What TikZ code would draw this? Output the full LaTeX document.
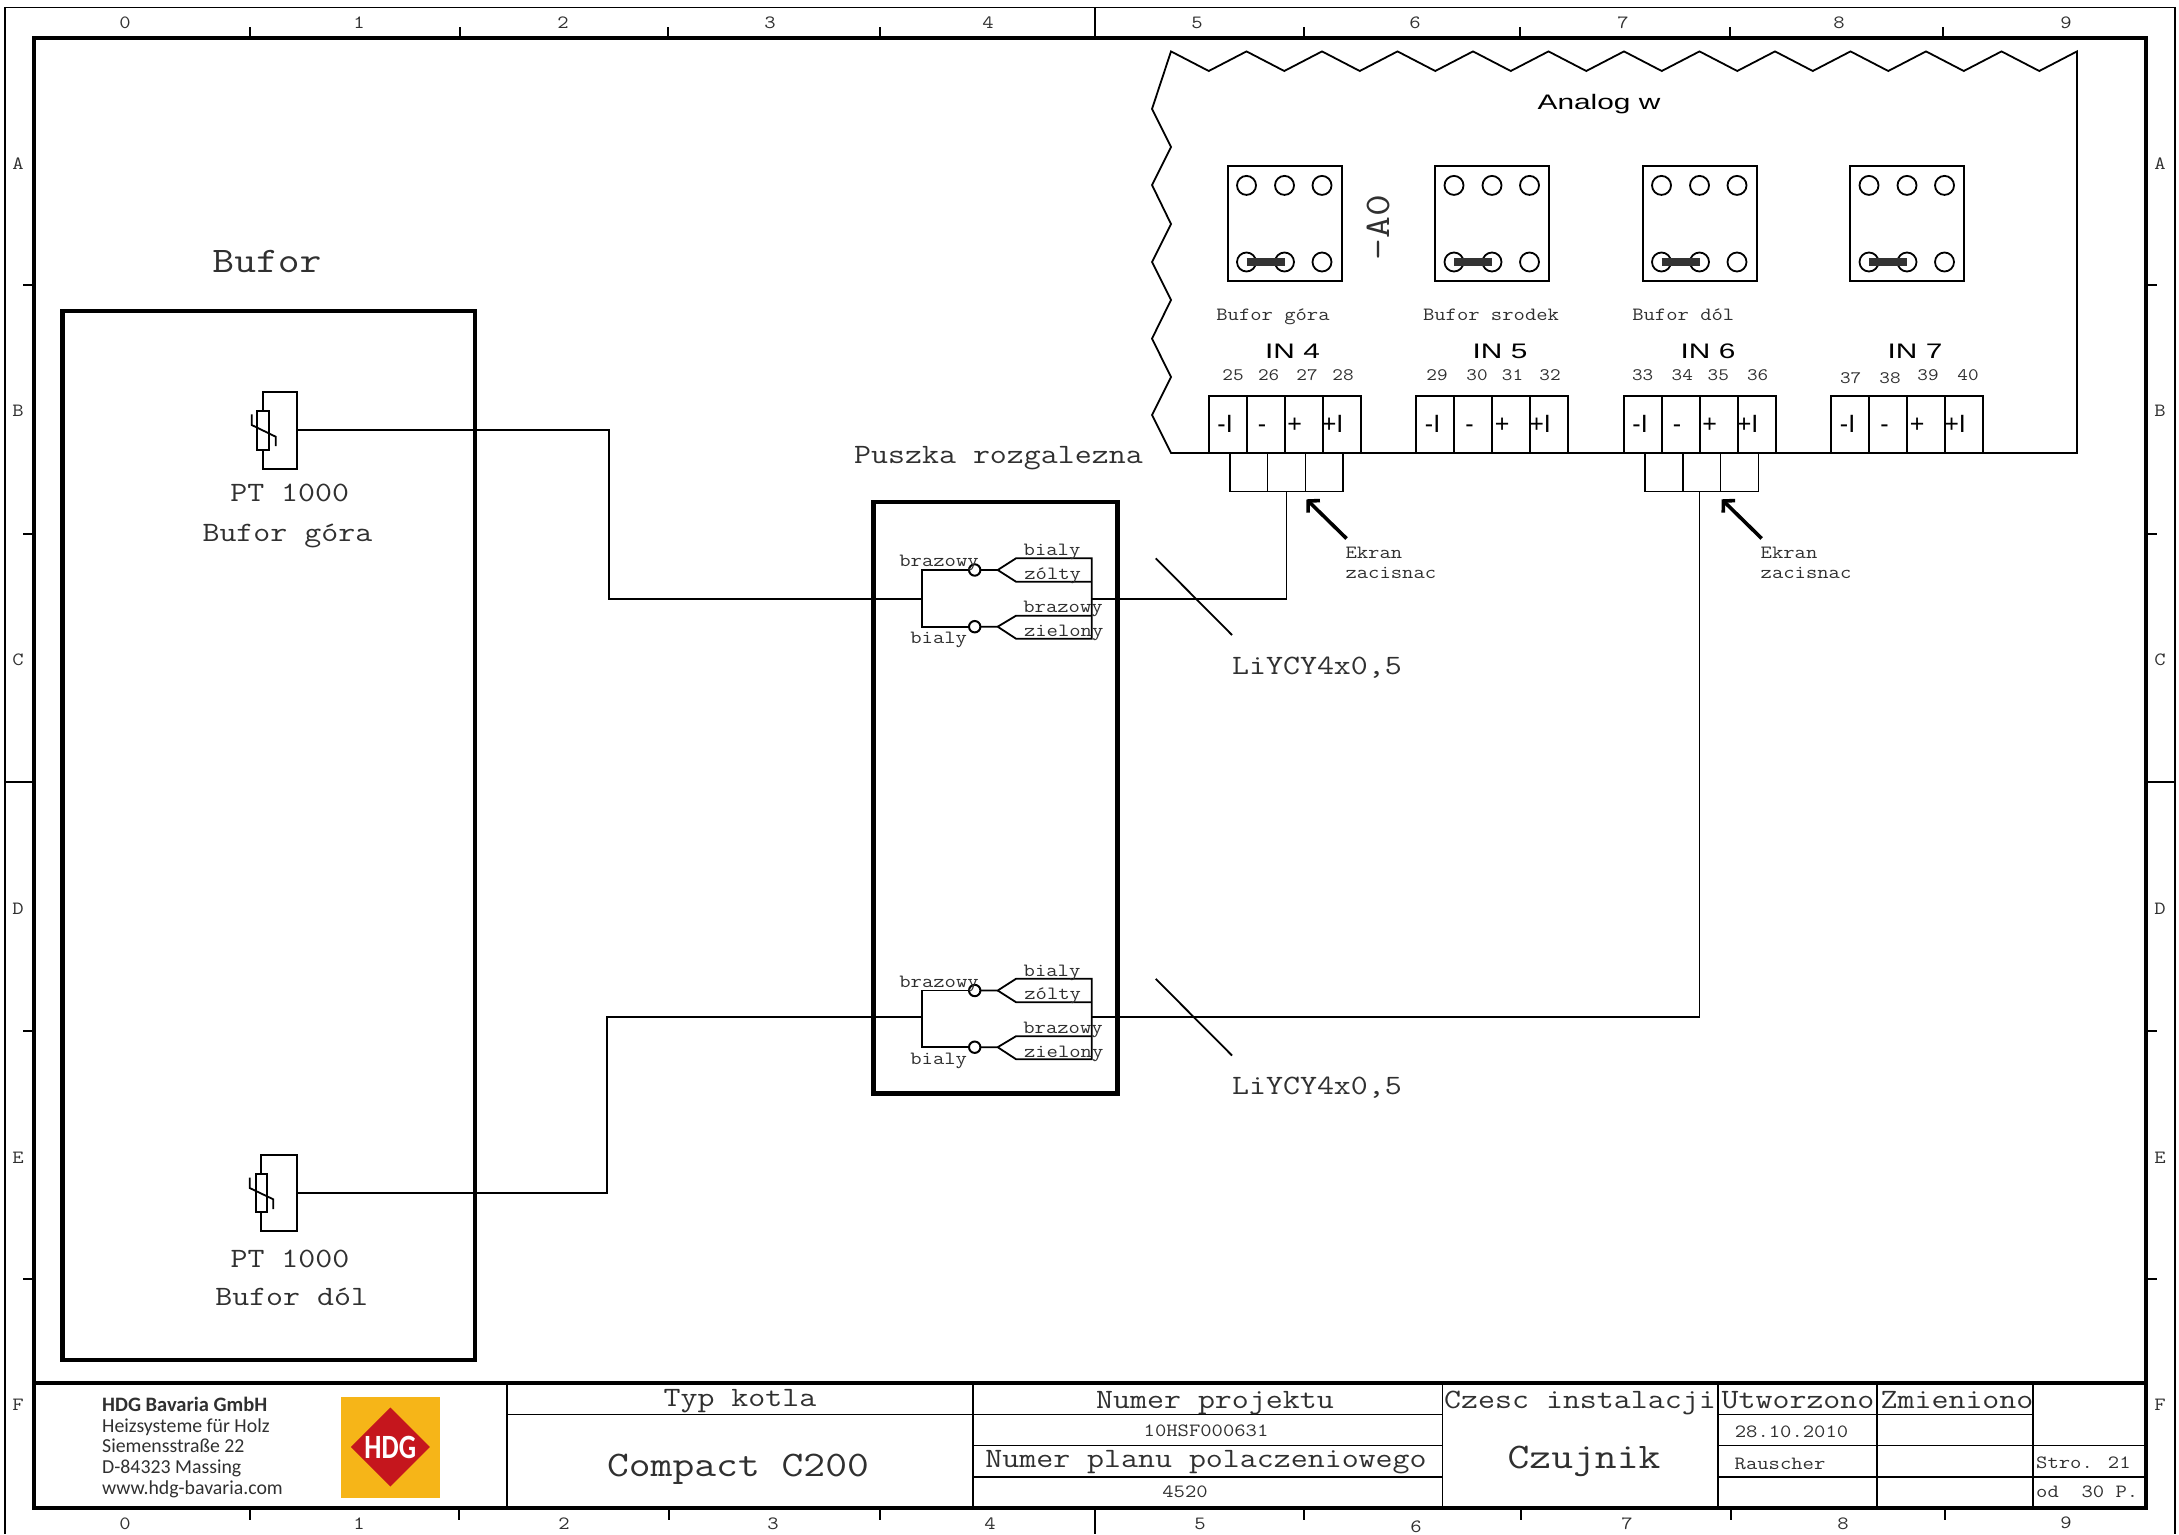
\documentclass[tikz,border=0pt]{standalone}
\usepackage{fontspec}
\setmainfont[FakeStretch=1.177]{Latin Modern Mono}
\newfontfamily\analogfont[FakeStretch=1.42]{Liberation Sans}
\newfontfamily\plainfont{Liberation Sans}
\newfontfamily\logofont{Carlito}
\newfontfamily\hdgfont[FakeStretch=0.8]{Carlito}
\usetikzlibrary{arrows.meta}
\definecolor{logoyellow}{HTML}{F6B518}
\definecolor{logored}{HTML}{C5161D}
\definecolor{jumpergray}{HTML}{333333}
\definecolor{inkgray}{HTML}{303030}
\tikzset{
  txt/.style={inner sep=0pt, text depth=0pt, text=inkgray},
  smalltxt/.style={txt, text height=11.6pt, font=\fontsize{18.7}{18.7}\selectfont},
  numtxt/.style={txt, text height=10.9pt, font=\fontsize{17.5}{17.5}\selectfont},
  midtxt/.style={txt, text height=17.4pt, font=\fontsize{28}{28}\selectfont},
  bigtxt/.style={txt, text height=22.6pt, font=\fontsize{36}{36}\selectfont},
  titletxt/.style={txt, text=black, text height=15pt, font=\analogfont\fontsize{21}{21}\selectfont},
  signtxt/.style={txt, text=black, text height=18pt, font=\plainfont\fontsize{25}{25}\selectfont},
  logotxt/.style={txt, anchor=west, text height=12pt, font=\logofont\fontsize{19.8}{19.8}\selectfont},
  wire/.style={line width=1.8pt},
  thinrule/.style={line width=1.6pt},
  heavy/.style={line width=4.5pt},
  framerule/.style={line width=4pt},
  cell/.style={draw, line width=2pt, inner sep=0pt, outer sep=0pt, anchor=north west},
  pin/.style={draw, line width=1.8pt, circle, inner sep=0pt, outer sep=0pt, minimum size=19pt},
  solder/.style={draw, line width=2pt, circle, inner sep=0pt, outer sep=0pt, minimum size=11.4pt},
  shieldarrow/.style={line width=3.6pt, -{Straight Barb[length=8pt,width=17pt]}},
}
\begin{document}
\begin{tikzpicture}[x=1pt, y=-1pt]
\useasboundingbox (0, 0) rectangle (2179, 1534);
\draw [thinrule] (5, 1534) -- (5, 7.5) -- (2175, 7.5) -- (2175, 1534);
\draw [framerule] (34, 37.7) rectangle (2146, 1507.7);
\foreach \x in {250, 460, 668, 880, 1304, 1520, 1730, 1943}{\draw [wire] (\x, 27) -- (\x, 37);}
\foreach \x in {250, 459, 669, 880, 1304, 1521, 1731, 1945}{\draw [wire] (\x, 1508) -- (\x, 1520);}
\foreach \y in {285, 534, 1031, 1279}{\draw [wire] (23, \y) -- (34, \y); \draw [wire] (2146, \y) -- (2157, \y);}
\draw [wire] (1095, 7.5) -- (1095, 37);
\draw [wire] (1095, 1508) -- (1095, 1534);
\draw [wire] (5, 782) -- (34, 782);
\draw [wire] (2146, 782) -- (2175, 782);
\foreach \t/\x in {0/125, 1/359, 2/563, 3/770, 4/988, 5/1197, 6/1415, 7/1623, 8/1839, 9/2066}{\node [smalltxt] (top\t) at (\x, 23) {\t};}
\foreach \t/\x/\y in {0/125/1524, 1/359/1524, 2/564/1524, 3/773/1524, 4/990/1524, 5/1200/1524, 6/1416/1527, 7/1627/1524, 8/1843/1524, 9/2066/1523}{\node [smalltxt] (bottom\t) at (\x, \y) {\t};}
\foreach \t/\y in {A/164, B/411, C/660, D/909, E/1158, F/1405}{\node [smalltxt] (left\t) at (18, \y) {\t}; \node [smalltxt] (right\t) at (2160, \y) {\t};}

\node [bigtxt] (bufor) at (267, 261) {Bufor};
\draw [heavy] (62.5, 311) rectangle (475, 1360);
\node [cell, line width=1.8pt, minimum width=34.3pt, minimum height=76.7pt] (ptgora) at (263, 392) {};
\node [cell, line width=1.8pt, fill=white, minimum width=12pt, minimum height=39.3pt] (resgora) at (257.3, 410.7) {};
\draw [wire] (251.7, 414.3) -- (251.7, 425) -- (275.7, 436.7) -- (275.7, 446);
\node [midtxt] (ptgoratxt) at (289.7, 492.7) {PT 1000};
\node [midtxt] (buforgora) at (287.4, 533) {Bufor góra};
\node [cell, line width=1.8pt, minimum width=36.3pt, minimum height=76.6pt] (ptdol) at (261, 1154.7) {};
\node [cell, line width=1.8pt, fill=white, minimum width=11.6pt, minimum height=38.6pt] (resdol) at (255.7, 1173.7) {};
\draw [wire] (249.7, 1177.7) -- (249.7, 1188) -- (273.3, 1199.3) -- (273.3, 1209);
\node [midtxt] (ptdoltxt) at (290, 1258.3) {PT 1000};
\node [midtxt] (bufordol) at (291.7, 1296.7) {Bufor dól};

\node [midtxt] (puszka) at (998.5, 454.5) {Puszka rozgalezna};
\draw [heavy] (873.3, 502) rectangle (1117.3, 1093.3);
\foreach \g/\dy in {a/0, b/420.5}{
  \begin{scope}[shift={(0, \dy)}]
    \node [solder] (solderup\g) at (974.7, 570) {};
    \node [solder] (solderlow\g) at (974.7, 626.7) {};
    \coordinate (branchup\g) at (922, 570);
    \coordinate (branchlow\g) at (922, 626.7);
    \draw [wire] (solderup\g.west) -- (branchup\g) -- (branchlow\g) -- (solderlow\g.west);
    \coordinate (tipup\g) at (997.7, 570);
    \coordinate (tiplow\g) at (997.7, 626.7);
    \draw [wire] (solderup\g.east) -- (tipup\g) -- (1016, 558.3) -- (1091.7, 558.3) -- (1091.7, 638.7) -- (1016, 638.7) -- (tiplow\g) -- (solderlow\g.east);
    \draw [wire] (1091.7, 581.7) -- (1016, 581.7) -- (tipup\g);
    \draw [wire] (1091.7, 615.7) -- (1016, 615.7) -- (tiplow\g);
    \node [smalltxt] (brazowyleft\g) at (939, 561) {brazowy};
    \node [smalltxt] (bialyleft\g) at (938.7, 638) {bialy};
    \node [smalltxt] (bialyright\g) at (1052, 550) {bialy};
    \node [smalltxt] (zolty\g) at (1052.7, 573.3) {zólty};
    \node [smalltxt] (brazowyright\g) at (1063, 607) {brazowy};
    \node [smalltxt] (zielony\g) at (1063.7, 630.7) {zielony};
    \coordinate (slashstart\g) at (1155.7, 558.3);
    \coordinate (slashend\g) at (1232, 635);
    \draw [wire] (slashstart\g) -- (slashend\g);
    \node [midtxt] (cable\g) at (1317, 665.7) {LiYCY4x0,5};
  \end{scope}
}

\draw [wire] (1171, 453) -- (1152, 415) -- (1171, 377) -- (1152, 338.6) -- (1171, 300) -- (1152, 262) -- (1171, 224) -- (1152, 185) -- (1171, 147) -- (1152, 109) -- (1171, 51.4)
  \foreach \k in {0, ..., 11}{ -- ({1171 + 75.5*\k + 37.75}, 71) -- ({1171 + 75.5*(\k + 1)}, 51.4) } -- (2077, 453) -- cycle;
\node [titletxt] (analog) at (1599, 101.5) {Analog w};
\node [txt, text height=22pt, rotate=90, font=\fontsize{36}{36}\selectfont] (aname) at (1378, 227.5) {-A0};
\foreach \k in {0, 1, 2, 3}{
  \pgfmathsetmacro{\xbox}{1227.5 + 207.5*\k}
  \pgfmathsetmacro{\xterm}{1208.6 + 207.5*\k}
  \node [cell, minimum width=114pt, minimum height=115pt] (jumper\k) at (\xbox, 166.4) {};
  \node [pin] (pin\k a) at (\xbox + 19, 185.4) {};
  \node [pin] (pin\k b) at (\xbox + 57, 185.4) {};
  \node [pin] (pin\k c) at (\xbox + 94.5, 185.4) {};
  \node [pin] (pin\k d) at (\xbox + 19, 262) {};
  \node [pin] (pin\k e) at (\xbox + 57, 262) {};
  \node [pin] (pin\k f) at (\xbox + 94.5, 262) {};
  \draw [line width=8pt, jumpergray] (pin\k d.center) -- (pin\k e.center);
  \node [cell, minimum width=38pt, minimum height=57.3pt] (term\k a) at (\xterm, 396) {};
  \node [cell, minimum width=38pt, minimum height=57.3pt] (term\k b) at (\xterm + 38, 396) {};
  \node [cell, minimum width=38pt, minimum height=57.3pt] (term\k c) at (\xterm + 76, 396) {};
  \node [cell, minimum width=38pt, minimum height=57.3pt] (term\k d) at (\xterm + 114, 396) {};
  \node [signtxt] (sign\k a) at (\xterm + 16.5, 423) {-I};
  \node [signtxt] (sign\k b) at (\xterm + 53.5, 423) {-};
  \node [signtxt] (sign\k c) at (\xterm + 86, 423) {+};
  \node [signtxt] (sign\k d) at (\xterm + 124, 423) {+I};
}
\foreach \n/\t/\x in {a/Bufor góra/1273, b/Bufor srodek/1491, c/Bufor dól/1683.3}{\node [smalltxt] (channel\n) at (\x, 315) {\t};}
\foreach \n/\x in {4/1292.5, 5/1500, 6/1708, 7/1915}{\node [titletxt] (input\n) at (\x, 350.5) {IN \n};}
\foreach \n/\x/\y in {25/1233/375.5, 26/1268.6/375.5, 27/1307/375.5, 28/1343/375.5, 29/1437/375.5, 30/1477/375.5, 31/1512.5/375.5, 32/1550/375.5, 33/1642.7/375.5, 34/1682.3/375.5, 35/1718.3/375.5, 36/1757.7/375.5, 37/1850.7/377.7, 38/1890/377.7, 39/1928/375.5, 40/1968/375.5}{\node [numtxt] (num\n) at (\x, \y) {\n};}
\foreach \n/\x in {a/1229.6, b/1644.7}{
  \node [cell, line width=1.8pt, minimum width=37.9pt, minimum height=38.4pt] (clamp\n l) at (\x, 453) {};
  \node [cell, line width=1.8pt, minimum width=37.9pt, minimum height=38.4pt] (clamp\n m) at (\x + 37.9, 453) {};
  \node [cell, line width=1.8pt, minimum width=37.9pt, minimum height=38.4pt] (clamp\n r) at (\x + 75.8, 453) {};
}
\foreach \n/\dx in {a/0, b/415.2}{
  \coordinate (tail\n) at (1346.5 + \dx, 538.5);
  \coordinate (head\n) at (1306.5 + \dx, 499.3);
  \draw [shieldarrow] (tail\n) -- (head\n);
  \node [smalltxt, anchor=west] (ekran\n) at (1345.3 + \dx, 553) {Ekran};
  \node [smalltxt, anchor=west] (zacisnac\n) at (1345.3 + \dx, 573) {zacisnac};
}

\coordinate (cornera) at (608.7, 598.7);
\coordinate (joina) at (922, 598.7);
\coordinate (cablea) at (1091.7, 598.7);
\draw [wire] (ptgora.east) -| (cornera) -- (joina);
\draw [wire] (cablea) -| (clampam.south);
\coordinate (cornerb) at (606.7, 1017.3);
\coordinate (joinb) at (922, 1017.3);
\coordinate (cableb) at (1091.7, 1017.3);
\draw [wire] (ptdol.east) -| (cornerb) -- (joinb);
\draw [wire] (cableb) -| ([xshift=-2pt]clampbm.south);

\draw [framerule] (34, 1382.7) -- (2146, 1382.7);
\foreach \x in {507, 973, 1442.5, 1718, 1877}{\draw [thinrule] (\x, 1382.7) -- (\x, 1507.7);}
\draw [thinrule] (2033, 1382.7) -- (2033, 1510);
\draw [thinrule] (507, 1414.5) -- (1442.5, 1414.5);
\draw [thinrule] (1718, 1414.5) -- (2033, 1414.5);
\draw [thinrule] (973, 1445.5) -- (1442.5, 1445.5);
\draw [thinrule] (1718, 1445.5) -- (2146, 1445.5);
\draw [thinrule] (973, 1477) -- (1442.5, 1477);
\draw [thinrule] (1718, 1477) -- (2146, 1477);
\node [midtxt] (typ) at (740, 1398) {Typ kotla};
\node [bigtxt] (compact) at (738, 1465) {Compact C200};
\node [midtxt] (projekt) at (1215, 1400) {Numer projektu};
\node [smalltxt] (projektnr) at (1206, 1431) {10HSF000631};
\node [midtxt] (plan) at (1206, 1459) {Numer planu polaczeniowego};
\node [smalltxt] (plannr) at (1185, 1491.7) {4520};
\node [midtxt] (czesc) at (1580, 1400) {Czesc instalacji};
\node [bigtxt] (czujnik) at (1584, 1457) {Czujnik};
\node [midtxt] (utworzono) at (1798, 1400) {Utworzono};
\node [midtxt] (zmieniono) at (1957, 1400) {Zmieniono};
\node [smalltxt] (datum) at (1791.5, 1431.7) {28.10.2010};
\node [smalltxt] (autor) at (1780, 1464) {Rauscher};
\node [smalltxt, anchor=west] (stro) at (2036, 1463) {Stro. 21};
\node [smalltxt, anchor=west] (od) at (2036, 1491.7) {od\ \ 30 P.};

\fill [logoyellow] (340.6, 1396.7) rectangle (440, 1498);
\fill [logored] (390.3, 1407.5) -- (429.8, 1447) -- (390.3, 1486.5) -- (350.8, 1447) -- cycle;
\node [txt, text=white, text height=22pt, font=\hdgfont\bfseries\fontsize{34}{34}\selectfont] (hdg) at (390.3, 1447) {HDG};
\node [logotxt, font=\logofont\bfseries\fontsize{20.5}{20.5}\selectfont] (firma) at (102, 1405) {HDG Bavaria GmbH};
\node [logotxt] (heiz) at (102, 1426) {Heizsysteme für Holz};
\node [logotxt] (strasse) at (102, 1446) {Siemensstraße 22};
\node [logotxt] (massing) at (102, 1467) {D-84323 Massing};
\node [logotxt] (www) at (102, 1488) {www.hdg-bavaria.com};
\end{tikzpicture}
\end{document}
